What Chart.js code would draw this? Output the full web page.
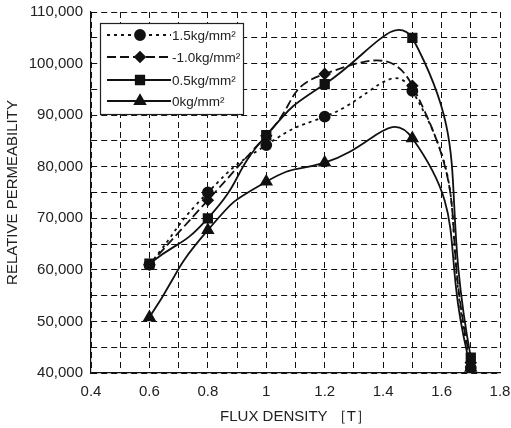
<!DOCTYPE html>
<html>
<head>
<meta charset="utf-8">
<script src="https://cdn.jsdelivr.net/npm/chart.js@4.4.1/dist/chart.umd.min.js"></script>
<style>
html,body{margin:0;padding:0;background:#fff;}
#wrap{position:relative;width:511px;height:428px;}
</style>
</head>
<body>
<div id="wrap"><canvas id="c" width="511" height="428"></canvas></div>
<script>
const fluxDensity = [0.6, 0.8, 1.0, 1.2, 1.5, 1.7];
const seriesLabels = ['1.5kg/mm²', '-1.0kg/mm²', '0.5kg/mm²', '0kg/mm²'];
const perm15 = [61000, 75000, 84200, 89700, 94700, 41000];
const permM10 = [61000, 73500, 86000, 98000, 95700, 42000];
const perm05 = [61200, 70000, 86100, 96000, 105000, 43000];
const perm0 = [50800, 67700, 77100, 80800, 85500, 41000];
const xTickLabels = ['0.4','0.6','0.8','1','1.2','1.4','1.6','1.8'];
const yTickLabels = ['40,000','50,000','60,000','70,000','80,000','90,000','100,000','110,000'];

const FONT = '"Liberation Sans", Arial, sans-serif';
const pts = arr => arr.map((v, i) => ({x: fluxDensity[i], y: v}));

const styles = [
  {pointStyle: 'circle', radius: 5, dash: [3, 4]},
  {pointStyle: 'rectRot', radius: 5, dash: [9, 4]},
  {pointStyle: 'rect', radius: 6, dash: []},
  {pointStyle: 'triangle', radius: 6, dash: []}
];
const values = [perm15, permM10, perm05, perm0];

const datasets = values.map((v, i) => ({
  label: seriesLabels[i],
  data: pts(v),
  borderColor: '#111',
  backgroundColor: '#111',
  borderWidth: 1.8,
  borderDash: styles[i].dash,
  pointStyle: styles[i].pointStyle,
  pointRadius: styles[i].radius,
  pointBackgroundColor: '#111',
  pointBorderColor: '#111',
  tension: 0.55,
  fill: false
}));

const legendPlugin = {
  id: 'boxLegend',
  afterDraw(chart) {
    const ctx = chart.ctx;
    const bx = 100, by = 23, bw = 143, bh = 91;
    ctx.save();
    ctx.fillStyle = '#fff';
    ctx.fillRect(bx, by, bw, bh);
    ctx.strokeStyle = '#222';
    ctx.lineWidth = 1.2;
    ctx.setLineDash([]);
    ctx.strokeRect(bx + 0.5, by + 0.5, bw, bh);
    const rows = [35, 57, 80, 101];
    chart.data.datasets.forEach((ds, i) => {
      const y = rows[i];
      ctx.strokeStyle = '#111';
      ctx.lineWidth = 1.8;
      ctx.setLineDash(ds.borderDash || []);
      ctx.beginPath();
      ctx.moveTo(107, y);
      ctx.lineTo(171, y);
      ctx.stroke();
      ctx.setLineDash([]);
      Chart.helpers.drawPoint(ctx, {pointStyle: ds.pointStyle, radius: ds.pointRadius, rotation: 0, borderWidth: 1}, 140, y);
      ctx.fillStyle = '#111';
      ctx.fill();
      ctx.font = '13.5px ' + FONT;
      ctx.fillStyle = '#222';
      ctx.textBaseline = 'middle';
      ctx.textAlign = 'left';
      ctx.fillText(ds.label, 172, y + 1);
    });
    ctx.restore();
  }
};

new Chart(document.getElementById('c'), {
  type: 'line',
  data: {datasets},
  plugins: [legendPlugin],
  options: {
    responsive: false,
    animation: false,
    layout: {padding: {top: 12, right: 11, left: 0, bottom: 0}},
    plugins: {legend: {display: false}, tooltip: {enabled: false}},
    scales: {
      x: {
        type: 'linear', min: 0.4, max: 1.8,
        afterFit(s) { s.height = 55; s.paddingLeft = 0; s.paddingRight = 0; },
        ticks: {
          stepSize: 0.1, autoSkip: false, maxRotation: 0, padding: 10,
          color: '#222', font: {family: FONT, size: 15},
          callback(v) {
            const k = Math.round(v * 10);
            if (k % 2 !== 0) return '';
            return xTickLabels[(k - 4) / 2];
          }
        },
        grid: {color: '#111', lineWidth: 1, drawTicks: false, tickLength: 0},
        border: {display: true, color: '#111', width: 1.2, dash: [6, 4]},
        title: {display: true, text: 'FLUX DENSITY ［T］', color: '#222', font: {family: FONT, size: 15}, padding: {top: 4, bottom: 2}}
      },
      y: {
        min: 40000, max: 110000,
        afterFit(s) { s.width = 91; s.paddingTop = 0; s.paddingBottom = 0; },
        ticks: {
          stepSize: 5000, autoSkip: false, padding: 8,
          color: '#222', font: {family: FONT, size: 15},
          callback(v) {
            const k = Math.round(v / 5000);
            if (k % 2 !== 0) return '';
            return yTickLabels[(k - 8) / 2];
          }
        },
        grid: {color: '#111', lineWidth: 1, drawTicks: false, tickLength: 0},
        border: {display: true, color: '#111', width: 1.2, dash: [6, 4]},
        title: {display: true, text: 'RELATIVE PERMEABILITY', color: '#222', font: {family: FONT, size: 15}, padding: {bottom: 0}}
      }
    }
  }
});
</script>
</body>
</html>
